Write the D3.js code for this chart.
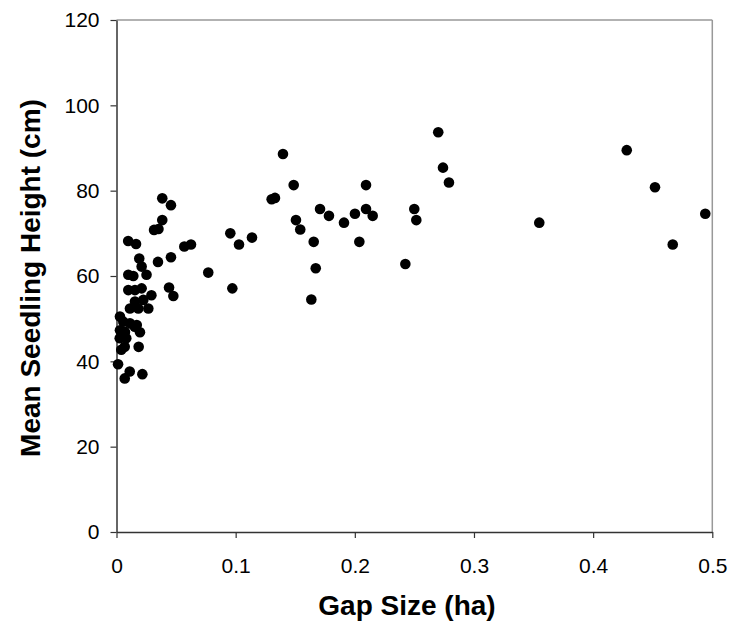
<!DOCTYPE html>
<html><head><meta charset="utf-8">
<script src="https://cdn.jsdelivr.net/npm/d3@7"></script>
<style>body{margin:0;background:#fff}svg{display:block}</style>
</head><body>
<script>
const gapSize = [0.270,0.274,0.279,0.1397,0.1487,0.1302,0.133,0.2094,0.1708,0.1783,0.1909,0.2001,0.2094,0.215,0.2499,0.2516,0.1506,0.1542,0.1655,0.2038,0.2424,0.0955,0.1028,0.1137,0.077,0.0972,0.1672,0.1635,0.3548,0.4282,0.4519,0.4941,0.4668,
0.0384,0.0457,0.0384,0.0352,0.0315,0.0569,0.0625,0.0457,0.0348,0.0252,0.0441,0.0477,0.0293,
0.0098,0.0164,0.0191,0.0211,0.0099,0.0141,0.0099,0.0155,0.0211,0.0155,0.0225,0.0113,0.0183,0.0267,0.0029,0.0057,0.0113,0.017,0.0029,0.0071,0.0197,0.0027,0.0082,0.004,0.0069,0.0186,0.0013,0.0111,0.0069,0.0217,0.0153];
const seedlingHeight = [93.7,85.4,81.9,88.6,81.3,78.0,78.3,81.3,75.7,74.1,72.5,74.6,75.7,74.1,75.7,73.1,73.1,70.9,68.0,68.0,62.8,70.0,67.4,69.0,60.8,57.1,61.8,54.5,72.5,89.5,80.8,74.6,67.4,
78.2,76.6,73.1,71.0,70.8,66.9,67.4,64.4,63.3,60.3,57.3,55.3,55.5,
68.2,67.5,64.1,62.2,60.3,60.0,56.7,56.7,57.1,54.0,54.4,52.4,52.4,52.4,50.5,49.3,48.9,48.5,47.3,46.9,46.8,45.4,45.4,42.7,43.4,43.4,39.3,37.6,36.0,37.0,48.1];
const xTicks = [0,0.1,0.2,0.3,0.4,0.5];
const yTicks = [0,20,40,60,80,100,120];
const xTitle = "Gap Size (ha)";
const yTitle = "Mean Seedling Height (cm)";

const W=733,H=623;
const L=116.5,R=712.3,T=20,B=532;
const svg=d3.select("body").append("svg").attr("width",W).attr("height",H);
const x=d3.scaleLinear().domain([0,0.5]).range([L,R]);
const y=d3.scaleLinear().domain([0,120]).range([B,T]);

svg.append("line").attr("x1",L).attr("x2",R).attr("y1",T).attr("y2",T).attr("stroke","#999").attr("stroke-width",1.5);
svg.append("line").attr("x1",R).attr("x2",R).attr("y1",T).attr("y2",B).attr("stroke","#999").attr("stroke-width",1.5);

const font="Liberation Sans, Arial, sans-serif";
const xa=svg.append("g").attr("transform",`translate(0,${B})`)
  .call(d3.axisBottom(x).tickValues(xTicks).tickFormat(d=>String(d)).tickSize(6).tickSizeOuter(0).tickPadding(20));
const ya=svg.append("g").attr("transform",`translate(${L},0)`)
  .call(d3.axisLeft(y).tickValues(yTicks).tickFormat(d=>String(d)).tickSize(6).tickSizeOuter(0).tickPadding(11));
[xa,ya].forEach(a=>{
  a.select(".domain").attr("stroke","#333").attr("stroke-width",1.5);
  a.selectAll(".tick line").attr("stroke","#333").attr("stroke-width",1.2);
  a.selectAll(".tick text").attr("font-family",font).attr("font-size",21).attr("fill","#000");
});

svg.append("g").selectAll("circle").data(gapSize.map((g,i)=>[g,seedlingHeight[i]])).join("circle")
  .attr("cx",d=>x(d[0])).attr("cy",d=>y(d[1])).attr("r",5.3).attr("fill","#000");

svg.append("text").attr("x",407).attr("y",615).attr("text-anchor","middle")
  .attr("font-family",font).attr("font-weight","bold").attr("font-size",28).text(xTitle);
svg.append("text").attr("transform",`translate(40,278) rotate(-90)`).attr("text-anchor","middle")
  .attr("font-family",font).attr("font-weight","bold").attr("font-size",28).text(yTitle);
</script>
</body></html>
